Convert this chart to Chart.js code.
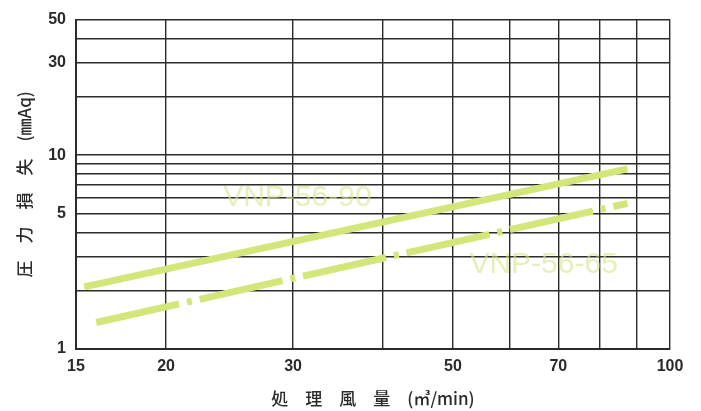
<!DOCTYPE html>
<html>
<head>
<meta charset="utf-8">
<script src="https://cdn.jsdelivr.net/npm/chart.js@4"></script>
<style>
  body { margin: 0; background: #ffffff; }
  #wrap { position: relative; width: 701px; height: 411px; }
</style>
</head>
<body>
<div id="wrap"><canvas id="loss-chart"></canvas></div>
<script>
// grid lines and labelled ticks
const xGridValues = [15, 20, 30, 40, 50, 60, 70, 80, 90, 100];
const xLabelValues = [15, 20, 30, 50, 70, 100];
const yGridValues = [1, 2, 3, 4, 5, 6, 7, 8, 9, 10, 20, 30, 40, 50];
const yLabelValues = [1, 5, 10, 30, 50];

// series (flow m3/min, loss mmAq)
const series90Flow = [15.4, 87.3];
const series90Loss = [2.09, 8.5];
const series65Flow = [16.0, 87.3];
const series65Loss = [1.37, 5.64];

// in-plot series names
const seriesNames = ["VNP-56-90", "VNP-56-65"];
const seriesNameAt = [{ x: 24, y: 6.0 }, { x: 52.7, y: 2.73 }];

const lineColor = "#d3e67a";
const gridColor = "#2b2b2b";

const toPoints = (xs, ys) => xs.map((x, i) => ({ x: x, y: ys[i] }));

// draws the pale series names inside the plot
const seriesLabelPlugin = {
  id: "seriesLabels",
  afterDatasetsDraw(chart) {
    const ctx = chart.ctx;
    const xs = chart.scales.x;
    const ys = chart.scales.y;
    ctx.save();
    ctx.font = "30px 'Liberation Sans Narrow', 'Liberation Sans', sans-serif";
    ctx.fillStyle = "rgba(214, 228, 140, 0.6)";
    ctx.textAlign = "left";
    ctx.textBaseline = "middle";
    seriesNames.forEach((name, i) => {
      ctx.fillText(name, xs.getPixelForValue(seriesNameAt[i].x), ys.getPixelForValue(seriesNameAt[i].y));
    });
    ctx.restore();
  },
};

const tickFont = { family: "'Liberation Sans', Arial, sans-serif", size: 16, weight: "bold" };
const titleFont = { family: "'Noto Sans CJK JP', sans-serif", size: 17, weight: 500 };

new Chart(document.getElementById("loss-chart").getContext("2d"), {
  type: "line",
  data: {
    datasets: [
      {
        label: seriesNames[0],
        data: toPoints(series90Flow, series90Loss),
        borderColor: lineColor,
        borderWidth: 7,
        pointRadius: 0,
        borderCapStyle: "butt",
      },
      {
        label: seriesNames[1],
        data: toPoints(series65Flow, series65Loss),
        borderColor: lineColor,
        borderWidth: 7,
        pointRadius: 0,
        borderDash: [85, 8, 5, 8],
        borderCapStyle: "butt",
      },
    ],
  },
  options: {
    responsive: true,
    maintainAspectRatio: false,
    animation: false,
    layout: { padding: { left: 0, right: 31, top: 14, bottom: 0 } },
    plugins: {
      legend: { display: false },
      tooltip: { enabled: false },
    },
    scales: {
      x: {
        type: "logarithmic",
        min: 15,
        max: 100,
        afterBuildTicks: (scale) => { scale.ticks = xGridValues.map((v) => ({ value: v })); },
        afterFit: (scale) => { scale.height = 62; },
        ticks: {
          autoSkip: false,
          maxRotation: 0,
          padding: 8,
          color: "#2a2a2a",
          font: tickFont,
          callback: (v) => (xLabelValues.includes(v) ? String(v) : ""),
        },
        grid: { color: gridColor, lineWidth: 1.4, drawTicks: false },
        border: { color: gridColor, width: 2 },
        title: {
          display: true,
          text: "処　理　風　量　(㎥/min)",
          color: "#2a2a2a",
          font: titleFont,
          padding: { top: 0, bottom: 2 },
        },
      },
      y: {
        type: "logarithmic",
        min: 1,
        max: 50,
        afterBuildTicks: (scale) => { scale.ticks = yGridValues.map((v) => ({ value: v })); },
        afterFit: (scale) => { scale.width = 76; },
        ticks: {
          autoSkip: false,
          padding: 10,
          color: "#2a2a2a",
          font: tickFont,
          callback: (v) => (yLabelValues.includes(v) ? String(v) : ""),
        },
        grid: { color: gridColor, lineWidth: 1.4, drawTicks: false },
        border: { color: gridColor, width: 2 },
        title: {
          display: true,
          text: "圧　力　損　失　(㎜Aq)",
          color: "#2a2a2a",
          font: titleFont,
          padding: { top: 14, bottom: 0 },
        },
      },
    },
  },
  plugins: [seriesLabelPlugin],
});
</script>
</body>
</html>
